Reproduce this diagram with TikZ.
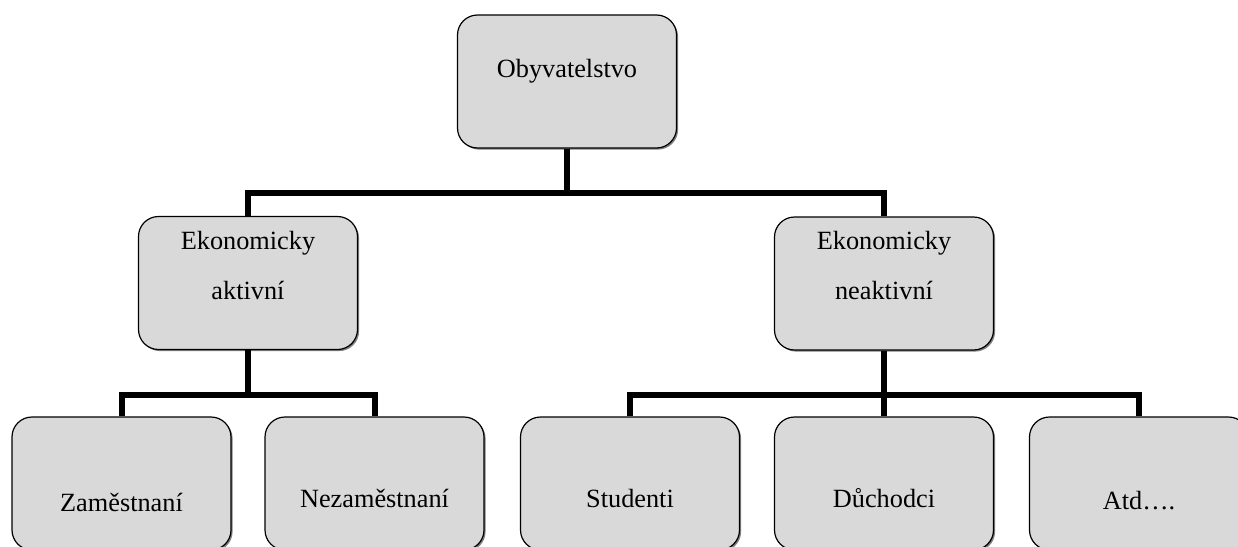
\documentclass[tikz,border=0pt]{standalone}
\usepackage{fontspec}
\setmainfont{Liberation Serif}
\usetikzlibrary{shadows}
\definecolor{boxgray}{RGB}{217,217,217}
\begin{document}
\begin{tikzpicture}[x=1pt,y=-1pt,
  box/.style={draw=black, line width=1.2pt, fill=boxgray, rounded corners=20pt,
    minimum width=219pt, minimum height=133pt, inner sep=0pt,
    drop shadow={shadow xshift=1.6pt, shadow yshift=-1.6pt, fill=black!50, opacity=1}},
  lbl/.style={inner sep=0pt, font=\fontsize{26.3}{50}\selectfont, align=center},
  conn/.style={line width=6pt, line join=miter, draw=black}]
\clip (0,0) rectangle (1238,546);
\fill[white] (0,0) rectangle (1238,546);
% boxes
\node[box] (top) at (567,81.5) {};
\node[box] (ml) at (248,283) {};
\node[box] (mr) at (884,283.5) {};
\node[box] (b1) at (121.5,483.5) {};
\node[box] (b2) at (374.5,483.5) {};
\node[box] (b3) at (630,483.5) {};
\node[box] (b4) at (884,483.5) {};
\node[box] (b5) at (1139,483.5) {};
% junction coordinates
\coordinate (j1) at (567,193);
\coordinate (j2) at (248,395);
\coordinate (j3) at (884,395);
% connectors
\draw[conn] (top.south) -- (j1);
\draw[conn] (ml.north) -- (ml.north |- j1) -- (mr.north |- j1) -- (mr.north);
\draw[conn] (ml.south) -- (j2);
\draw[conn] (b1.north) -- (b1.north |- j2) -- (b2.north |- j2) -- (b2.north);
\draw[conn] (mr.south) -- (j3);
\draw[conn] (b3.north) -- (b3.north |- j3) -- (b5.north |- j3) -- (b5.north);
\draw[conn] (b4.north) -- (b4.north |- j3);
% labels
\node[lbl, anchor=base] (ttop) at (567,77) {Obyvatelstvo};
\node[lbl] (tml) at (248,265) {Ekonomicky\\aktivní};
\node[lbl] (tmr) at (884,265) {Ekonomicky\\neaktivní};
\node[lbl, anchor=base] (tb1) at (121.5,511) {Zaměstnaní};
\node[lbl, anchor=base] (tb2) at (374.5,507) {Nezaměstnaní};
\node[lbl, anchor=base] (tb3) at (630,507) {Studenti};
\node[lbl, anchor=base] (tb4) at (884,507) {Důchodci};
\node[lbl, anchor=base] (tb5) at (1139,509) {Atd….};
\end{tikzpicture}
\end{document}
